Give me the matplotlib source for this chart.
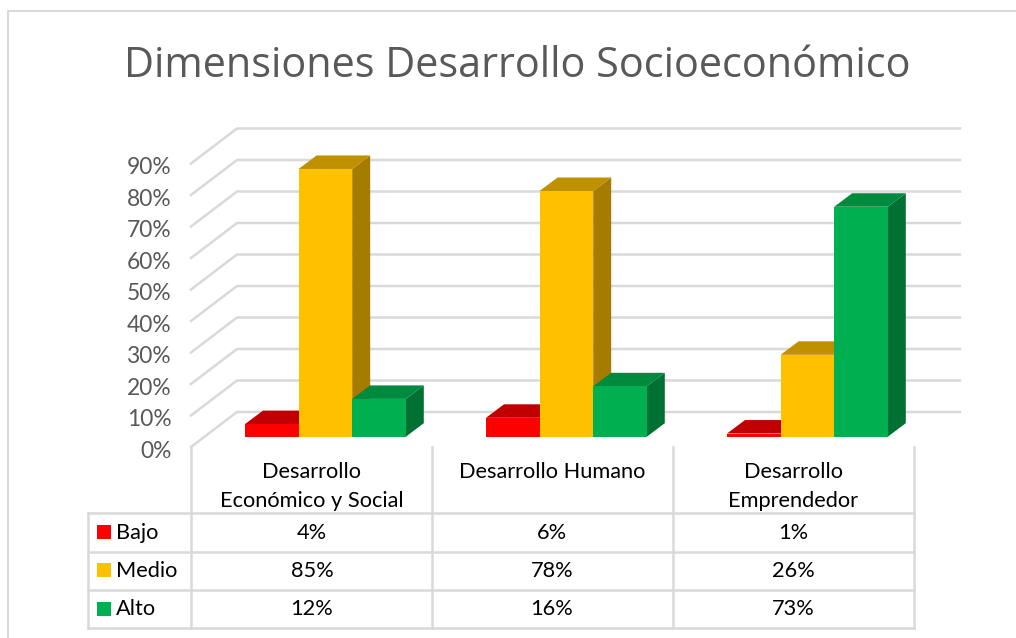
import matplotlib
matplotlib.use('Agg')
import matplotlib.pyplot as plt
from matplotlib.patches import Polygon, Rectangle
from matplotlib.transforms import ScaledTranslation

categories = ['Desarrollo\nEconómico y Social', 'Desarrollo Humano', 'Desarrollo\nEmprendedor']
series = ['Bajo', 'Medio', 'Alto']
bajo = [4, 6, 1]
medio = [85, 78, 26]
alto = [12, 16, 73]
y_ticks = [0, 10, 20, 30, 40, 50, 60, 70, 80, 90]

front_colors = ['#FF0000', '#FFC000', '#00B050']
top_colors = ['#C00000', '#BF9000', '#008A3E']
side_colors = ['#900000', '#A67C00', '#007033']
grid_color = '#D9D9D9'

W, H = 1016, 638
fig = plt.figure(figsize=(W / 100, H / 100), dpi=100)
plt.rcParams['font.family'] = ['Lato', 'DejaVu Sans']

# capa en pixeles para marco y tabla
bg = fig.add_axes([0, 0, 1, 1])
bg.set_xlim(0, W)
bg.set_ylim(H, 0)
bg.axis('off')

bg.plot([8, 8, W], [H, 11, 11], color=grid_color, lw=1.5)
for y in [513, 552, 590, 628]:
    bg.plot([88, 914], [y, y], color=grid_color, lw=1.8)
bg.plot([88, 88], [513, 628], color=grid_color, lw=1.8)
for x in [191, 432, 673, 914]:
    bg.plot([x, x], [447, 628], color=grid_color, lw=1.8)

bg.text(517.5, 66, 'Dimensiones Desarrollo Socioeconómico', family='Open Sans',
        fontsize=29.9, color='#595959', ha='center', va='center')

# ejes del grafico: categoria en x, porcentaje en y
ax = fig.add_axes([191 / W, (H - 447) / H, 723 / W, 283.5 / H])
ax.patch.set_alpha(0)
ax.set_xlim(0, 3)
ax.set_ylim(0, 90)
for s in ax.spines.values():
    s.set_visible(False)
ax.set_xticks([])
ax.set_yticks(y_ticks)
ax.set_yticklabels([f'{v}%' for v in y_ticks], color='#595959', fontsize=16.4)
ax.tick_params(axis='y', length=0, pad=14)
down = ScaledTranslation(0, -1.5 / 72, fig.dpi_scale_trans)
for lab in ax.get_yticklabels():
    lab.set_transform(lab.get_transform() + down)

px_x = 3 / 723
px_y = 90 / 283.5
depth_x = 46 * px_x
depth_y = 35 * px_y
wall_right = (960 - 191) * px_x

for v in y_ticks:
    ax.plot([0, depth_x, wall_right], [v, v + depth_y, v + depth_y],
            color=grid_color, lw=1.8, clip_on=False, zorder=1)

bar_w = 53.6 * px_x
start = 54 * px_x
floor_y = 10.3 * px_y  # el suelo de las barras va algo hacia atras
bar_dx = 18 * px_x
bar_dy = 13.5 * px_y

for c in range(len(categories)):
    for s, vals in enumerate([bajo, medio, alto]):
        x0 = c + start + s * bar_w
        x1 = x0 + bar_w
        y0 = floor_y
        y1 = floor_y + vals[c]
        ax.add_patch(Polygon([(x1, y0), (x1 + bar_dx, y0 + bar_dy), (x1 + bar_dx, y1 + bar_dy), (x1, y1)],
                             fc=side_colors[s], ec='none', clip_on=False, zorder=3))
        ax.add_patch(Polygon([(x0, y1), (x0 + bar_dx, y1 + bar_dy), (x1 + bar_dx, y1 + bar_dy), (x1, y1)],
                             fc=top_colors[s], ec='none', clip_on=False, zorder=3))
        ax.add_patch(Rectangle((x0, y0), bar_w, vals[c], fc=front_colors[s], ec='none',
                               clip_on=False, zorder=3))

# tabla de datos
text_size = 15.7
col_x = [312, 552, 793]
for x, name in zip(col_x, categories):
    for i, t in enumerate(name.split('\n')):
        bg.text(x, 472 + i * 29, t, fontsize=text_size, color='#000000', ha='center', va='center')

rows_y = [533, 571, 609]
keys_y = [525, 563, 602]
for s, name in enumerate(series):
    bg.add_patch(Rectangle((97, keys_y[s]), 14, 14, fc=front_colors[s], ec='none'))
    bg.text(116, rows_y[s], name, fontsize=text_size, color='#000000', ha='left', va='center')
    for x, v in zip(col_x, [bajo, medio, alto][s]):
        bg.text(x, rows_y[s], f'{v}%', fontsize=text_size, color='#000000', ha='center', va='center')

fig.savefig('out.png', dpi=100)
